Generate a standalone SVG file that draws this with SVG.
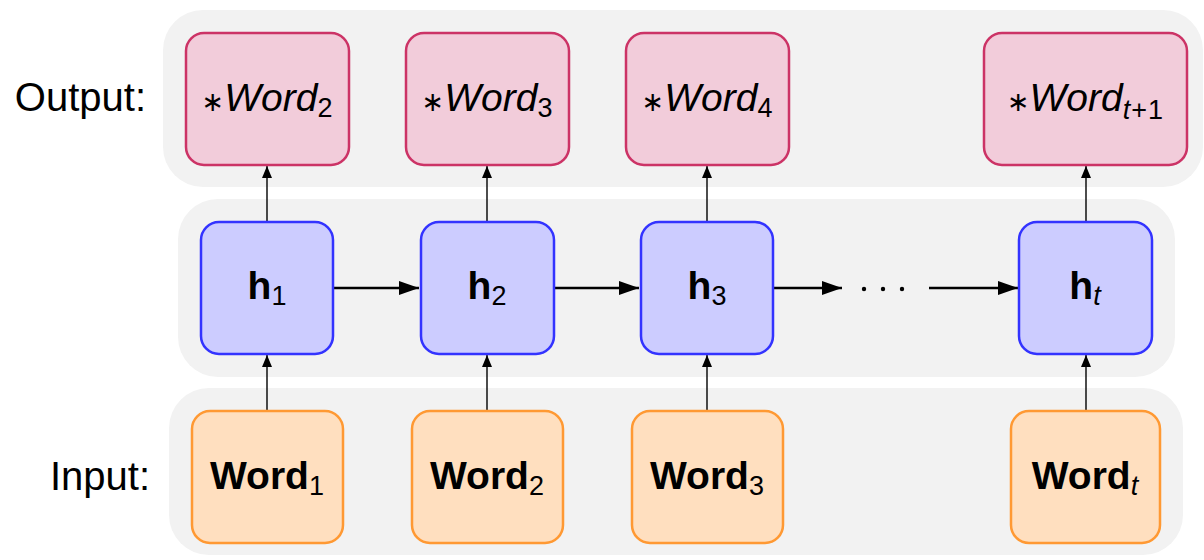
<svg xmlns="http://www.w3.org/2000/svg" width="1204" height="560" viewBox="0 0 1204 560">
<style>
.bg{fill:#f2f2f2}
.out{fill:#f2ccda;stroke:#cc3366;stroke-width:2.5}
.hid{fill:#ccccff;stroke:#3333ff;stroke-width:2.5}
.inp{fill:#ffdfbf;stroke:#ff9933;stroke-width:2.5}
text{font-family:"Liberation Sans",Arial,sans-serif;fill:#000}
.lbl{font-size:40px}
.it{font-size:39px;font-style:italic;text-anchor:middle}
.bd{font-size:39px;font-weight:bold;text-anchor:middle}
.sub{font-size:27px;font-weight:normal;font-style:normal}
.subi{font-size:27px;font-weight:normal;font-style:italic}
.ast{font-family:"DejaVu Sans",sans-serif;font-style:normal;font-weight:normal;font-size:27px}
.thin{stroke:#000;stroke-width:1.4;fill:none}
.thick{stroke:#000;stroke-width:2.6;fill:none}
</style>
<defs>
<marker id="ah" markerUnits="userSpaceOnUse" markerWidth="12" markerHeight="14" refX="12" refY="5" orient="auto" viewBox="0 0 12 10">
<path d="M0,0 L12,5 L0,10 Z" fill="#000"/>
</marker>
<marker id="ahb" markerUnits="userSpaceOnUse" markerWidth="20" markerHeight="14" refX="20" refY="7" orient="auto" viewBox="0 0 20 14">
<path d="M0,0 L20,7 L0,14 Z" fill="#000"/>
</marker>
</defs>

<rect class="bg" x="163" y="10" width="1040" height="177" rx="40"/>
<rect class="bg" x="178" y="199" width="997" height="178" rx="40"/>
<rect class="bg" x="169" y="388" width="1014" height="167" rx="40"/>

<text class="lbl" x="146" y="111" text-anchor="end">Output:</text>
<text class="lbl" x="150" y="490" text-anchor="end">Input:</text>

<g id="connectors">
<line class="thin" x1="267" y1="411" x2="267" y2="355" marker-end="url(#ah)"/>
<line class="thin" x1="487" y1="411" x2="487" y2="355" marker-end="url(#ah)"/>
<line class="thin" x1="707" y1="411" x2="707" y2="355" marker-end="url(#ah)"/>
<line class="thin" x1="1086" y1="411" x2="1086" y2="355" marker-end="url(#ah)"/>
<line class="thin" x1="267" y1="222" x2="267" y2="166" marker-end="url(#ah)"/>
<line class="thin" x1="487" y1="222" x2="487" y2="166" marker-end="url(#ah)"/>
<line class="thin" x1="707" y1="222" x2="707" y2="166" marker-end="url(#ah)"/>
<line class="thin" x1="1086" y1="222" x2="1086" y2="166" marker-end="url(#ah)"/>
<line class="thick" x1="333" y1="288" x2="419" y2="288" marker-end="url(#ahb)"/>
<line class="thick" x1="554" y1="288" x2="639" y2="288" marker-end="url(#ahb)"/>
<line class="thick" x1="773" y1="288" x2="842" y2="288" marker-end="url(#ahb)"/>
<line class="thick" x1="929" y1="288" x2="1018" y2="288" marker-end="url(#ahb)"/>
<circle cx="864" cy="289" r="2.2" fill="#000"/>
<circle cx="883" cy="289" r="2.2" fill="#000"/>
<circle cx="902" cy="289" r="2.2" fill="#000"/>
</g>

<g id="out2"><rect class="out" x="186" y="33" width="163" height="132" rx="18"/>
<text class="it" x="267" y="111"><tspan class="ast">∗</tspan>Word<tspan class="sub" dy="6">2</tspan></text></g>
<g id="out3"><rect class="out" x="406" y="33" width="163" height="132" rx="18"/>
<text class="it" x="487" y="111"><tspan class="ast">∗</tspan>Word<tspan class="sub" dy="6">3</tspan></text></g>
<g id="out4"><rect class="out" x="626" y="33" width="163" height="132" rx="18"/>
<text class="it" x="707" y="111"><tspan class="ast">∗</tspan>Word<tspan class="sub" dy="6">4</tspan></text></g>
<g id="outt1"><rect class="out" x="984" y="33" width="203" height="132" rx="18"/>
<text class="it" x="1085" y="111"><tspan class="ast">∗</tspan>Word<tspan class="subi" dy="8">t</tspan><tspan class="sub" dx="1">+</tspan><tspan class="sub" dx="1">1</tspan></text></g>

<g id="h1"><rect class="hid" x="201" y="222" width="132" height="132" rx="18"/>
<text class="bd" x="267" y="299">h<tspan class="sub" dy="6">1</tspan></text></g>
<g id="h2"><rect class="hid" x="421" y="222" width="133" height="132" rx="18"/>
<text class="bd" x="487" y="299">h<tspan class="sub" dy="6">2</tspan></text></g>
<g id="h3"><rect class="hid" x="641" y="222" width="132" height="132" rx="18"/>
<text class="bd" x="707" y="299">h<tspan class="sub" dy="6">3</tspan></text></g>
<g id="ht"><rect class="hid" x="1019" y="222" width="133" height="132" rx="18"/>
<text class="bd" x="1085" y="299">h<tspan class="subi" dy="6">t</tspan></text></g>

<g id="in1"><rect class="inp" x="192" y="411" width="151" height="132" rx="18"/>
<text class="bd" x="267" y="489">Word<tspan class="sub" dy="6">1</tspan></text></g>
<g id="in2"><rect class="inp" x="412" y="411" width="151" height="132" rx="18"/>
<text class="bd" x="487" y="489">Word<tspan class="sub" dy="6">2</tspan></text></g>
<g id="in3"><rect class="inp" x="632" y="411" width="151" height="132" rx="18"/>
<text class="bd" x="707" y="489">Word<tspan class="sub" dy="6">3</tspan></text></g>
<g id="int"><rect class="inp" x="1011" y="411" width="149" height="132" rx="18"/>
<text class="bd" x="1085" y="489">Word<tspan class="subi" dy="6">t</tspan></text></g>
</svg>
